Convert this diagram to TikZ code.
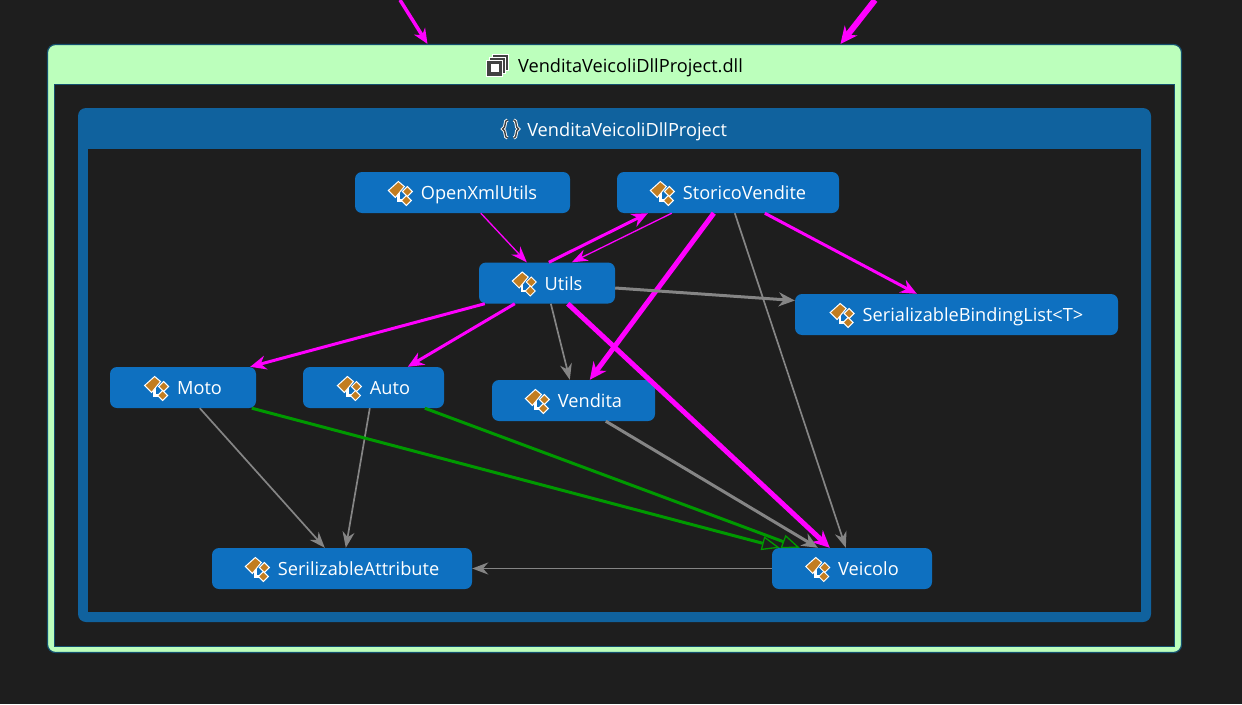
\documentclass[tikz,border=0pt]{standalone}
\usepackage{fontspec}
\setmainfont{Open Sans}
\usetikzlibrary{arrows.meta}
\definecolor{bgdark}{HTML}{1E1E1E}
\definecolor{dllgreen}{HTML}{BCFFBC}
\definecolor{frameblue}{HTML}{14506E}
\definecolor{groupblue}{HTML}{10629E}
\definecolor{classblue}{HTML}{0E70C0}
\definecolor{iconorange}{HTML}{C27D20}
\definecolor{icongray}{HTML}{424242}
\definecolor{linkgray}{HTML}{858585}
\definecolor{linkgreen}{HTML}{009900}
\definecolor{linkpink}{RGB}{255,0,255}
\tikzset{
  titletext/.style={inner sep=0pt,text height=14.5pt,text depth=0pt,font=\fontsize{18.2}{20}\selectfont},
  classbox/.style={titletext,fill=classblue,rounded corners=7pt,minimum height=41pt,text=white},
  pinkthin/.style={draw=linkpink,line width=1.3pt,-{Stealth[length=16pt,width=12pt]}},
  pinkmid/.style={draw=linkpink,line width=3pt,-{Stealth[length=16pt,width=14pt]}},
  pinkthick/.style={draw=linkpink,line width=5pt,-{Stealth[length=17pt,width=16pt]}},
  graythin/.style={draw=linkgray,line width=1.7pt,-{Stealth[length=16pt,width=12pt]}},
  graymid/.style={draw=linkgray,line width=3pt,-{Stealth[length=16pt,width=14pt]}},
  greenlink/.style={draw=linkgreen,line width=3pt,-{Triangle[open,length=18pt,width=14pt,line width=1.3pt]}},
}
\newcommand{\classicon}{\tikz[x=1pt,y=-1pt,sharp corners,baseline={(0,-19.25pt)}]{
  \draw[white,line width=2.5pt] (12,9)--(12,20)--(19,20);
  \draw[white,line width=1pt,fill=iconorange] (2,10)--(12,1)--(18,6)--(9,17)--cycle;
  \draw[white,line width=1pt,fill=iconorange] (21,6)--(26,11)--(21,16)--(16,11)--cycle;
  \draw[white,line width=1pt,fill=iconorange] (20,15)--(25,20)--(20,25)--(15,20)--cycle;
}}
\newcommand{\dllicon}{\tikz[x=1pt,y=-1pt,sharp corners,baseline={(0,-18.25pt)}]{
  \foreach \d in {6,3,0}
    \draw[white,line width=1pt,fill=icongray] (1+\d,6-\d) rectangle (17+\d,22-\d);
  \fill[white] (5,10) rectangle (13,18);
}}
\newcommand{\namespaceicon}{\tikz[x=1pt,y=-1pt,sharp corners,baseline={(0,-17.25pt)}]{
  \foreach \w/\c in {3.2/white,1.4/icongray}{
    \draw[\c,line width=\w pt] (7,1) .. controls (3,1) and (6,9) .. (2,10) .. controls (6,11) and (3,19) .. (7,19);
    \draw[\c,line width=\w pt] (13,1) .. controls (17,1) and (14,9) .. (18,10) .. controls (14,11) and (17,19) .. (13,19);
  }
}}
\begin{document}
\begin{tikzpicture}[x=1pt,y=-1pt]
\fill[bgdark] (0,0) rectangle (1242,704);
\useasboundingbox (0,0) rectangle (1242,704);
% containers
\node[draw=frameblue,line width=1.2pt,fill=dllgreen,rounded corners=8pt,minimum width=1134pt,minimum height=608pt,inner sep=0pt] (dllframe) at (614.5,348.5) {};
\node[draw=frameblue,line width=1pt,fill=bgdark,minimum width=1120pt,minimum height=562pt,inner sep=0pt] (dllbody) at (614,365) {};
\node[fill=groupblue,rounded corners=8pt,minimum width=1073pt,minimum height=514pt,inner sep=0pt] (groupframe) at (614.5,365) {};
\node[fill=bgdark,minimum width=1053pt,minimum height=463pt,inner sep=0pt] (groupbody) at (614.5,380.5) {};
\node[titletext,text=black] (dlltitle) at (614.5,65) {\dllicon\hspace{9pt}VenditaVeicoliDllProject.dll};
\node[titletext,text=white] (grouptitle) at (614,129) {\namespaceicon\hspace{7pt}VenditaVeicoliDllProject};
% classes
\node[classbox,minimum width=215pt] (openxml) at (462.5,192.5) {\classicon\hspace{8pt}OpenXmlUtils};
\node[classbox,minimum width=222pt] (storico) at (728,192.5) {\classicon\hspace{8pt}StoricoVendite};
\node[classbox,minimum width=136pt] (utils) at (547,283) {\classicon\hspace{8pt}Utils};
\node[classbox,minimum width=323pt] (bindinglist) at (956.5,314.5) {\classicon\hspace{8pt}SerializableBindingList<T>};
\node[classbox,minimum width=146pt] (moto) at (183,387.5) {\classicon\hspace{8pt}Moto};
\node[classbox,minimum width=141pt] (auto) at (373.5,387.5) {\classicon\hspace{8pt}Auto};
\node[classbox,minimum width=163pt] (vendita) at (573.5,400.5) {\classicon\hspace{8pt}Vendita};
\node[classbox,minimum width=260pt] (attribute) at (342,568.5) {\classicon\hspace{8pt}SerilizableAttribute};
\node[classbox,minimum width=160pt] (veicolo) at (852,568.5) {\classicon\hspace{8pt}Veicolo};
% incoming from outside
\coordinate (topleft) at (400,0);
\coordinate (topright) at (875,0);
\draw[draw=linkpink,line width=3.5pt,-{Stealth[length=15pt,width=13pt]}] (topleft) -- ([xshift=-187pt]dllframe.north);
\draw[draw=linkpink,line width=6pt,-{Stealth[length=17pt,width=16pt]}] (topright) -- ([xshift=226pt]dllframe.north);
% links
\draw[pinkthin] ([xshift=126pt]openxml.south west) -- ([xshift=48pt]utils.north west);
\draw[pinkthin] ([xshift=55pt]storico.south west) -- ([xshift=93pt]utils.north west);
\draw[pinkmid] ([xshift=70pt]utils.north west) -- ([xshift=31pt]storico.south west);
\draw[pinkthick] ([xshift=97pt]storico.south west) -- ([xshift=98pt]vendita.north west);
\draw[pinkmid] ([xshift=148pt]storico.south west) -- ([xshift=122pt]bindinglist.north west);
\draw[graythin] ([xshift=118pt]storico.south west) -- ([xshift=74pt]veicolo.north west);
\draw[graymid] ([yshift=-5pt]utils.east) -- ([yshift=14pt]bindinglist.west);
\draw[graythin] ([xshift=72pt]utils.south west) -- ([xshift=78pt]vendita.north west);
\draw[pinkmid] ([xshift=6pt]utils.south west) -- ([xshift=-6pt]moto.north east);
\draw[pinkmid] ([xshift=36pt]utils.south west) -- ([xshift=105pt]auto.north west);
\draw[pinkthick] ([xshift=89pt]utils.south west) -- ([xshift=58pt]veicolo.north west);
\draw[graythin] ([xshift=90pt]moto.south west) -- ([xshift=113pt]attribute.north west);
\draw[graythin] ([xshift=67pt]auto.south west) -- ([xshift=134pt]attribute.north west);
\draw[greenlink] ([xshift=142pt]moto.south west) -- ([xshift=8pt]veicolo.north west);
\draw[greenlink] ([xshift=122pt]auto.south west) -- ([xshift=28pt]veicolo.north west);
\draw[graymid] ([xshift=114pt]vendita.south west) -- ([xshift=46pt]veicolo.north west);
\draw[graythin] (veicolo.west) -- (attribute.east);
\end{tikzpicture}
\end{document}
